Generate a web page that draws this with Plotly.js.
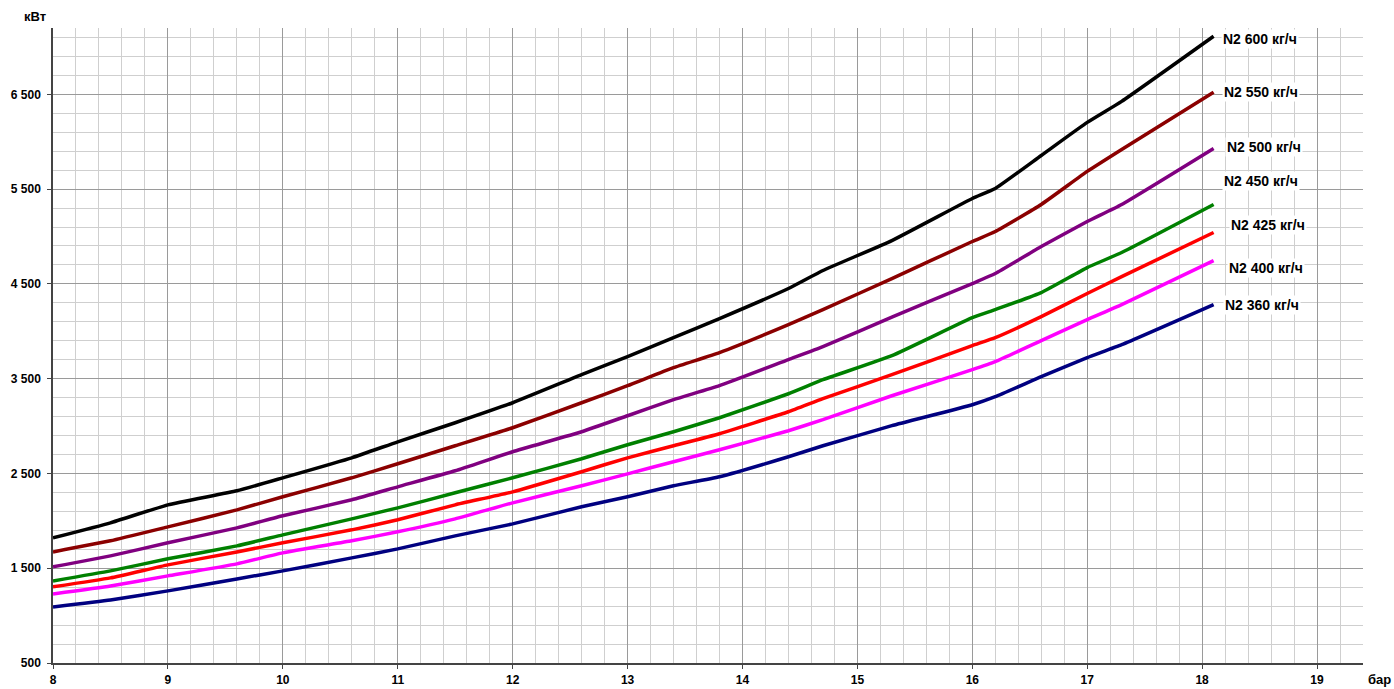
<!DOCTYPE html>
<html>
<head>
<meta charset="utf-8">
<script src="https://cdn.plot.ly/plotly-3.0.1.min.js"></script>
<style>html,body{margin:0;padding:0;background:#fff;}#chart{width:1394px;height:689px;}</style>
</head>
<body>
<div id="chart"></div>
<script>
// pressure, bar
var xs = [8, 8.5, 9, 9.6, 10, 10.6, 11, 11.5, 12, 12.6, 13, 13.4, 13.8, 14.4, 14.7, 15.3, 16, 16.2, 16.6, 17, 17.3, 18.1];
// power, kW
var n600 = [1820, 1979, 2169, 2317, 2454, 2665, 2834, 3035, 3246, 3542, 3732, 3933, 4134, 4451, 4641, 4957, 5401, 5507, 5855, 6204, 6426, 7113];
var n550 = [1672, 1789, 1936, 2116, 2254, 2454, 2602, 2792, 2982, 3246, 3426, 3616, 3775, 4070, 4229, 4556, 4947, 5053, 5338, 5687, 5919, 6521];
var n500 = [1514, 1630, 1768, 1926, 2053, 2222, 2359, 2528, 2729, 2940, 3109, 3278, 3426, 3701, 3838, 4150, 4503, 4609, 4894, 5158, 5338, 5929];
var n450 = [1366, 1472, 1599, 1736, 1852, 2021, 2137, 2296, 2454, 2655, 2803, 2940, 3088, 3341, 3489, 3743, 4144, 4229, 4408, 4672, 4831, 5338];
var n425 = [1303, 1398, 1535, 1672, 1768, 1905, 2011, 2169, 2306, 2518, 2665, 2792, 2919, 3151, 3289, 3542, 3849, 3933, 4155, 4398, 4577, 5042];
var n400 = [1229, 1313, 1419, 1546, 1662, 1789, 1884, 2021, 2190, 2370, 2496, 2623, 2750, 2951, 3067, 3320, 3595, 3680, 3901, 4123, 4281, 4746];
var n360 = [1092, 1165, 1261, 1387, 1472, 1609, 1704, 1841, 1968, 2148, 2254, 2370, 2465, 2676, 2792, 3004, 3225, 3310, 3521, 3722, 3859, 4282];

var seriesNames = ["N2 600 кг/ч", "N2 550 кг/ч", "N2 500 кг/ч", "N2 450 кг/ч", "N2 425 кг/ч", "N2 400 кг/ч", "N2 360 кг/ч"];
var seriesColors = ["#000000", "#8b0000", "#800080", "#008000", "#ff0000", "#ff00ff", "#000080"];
var labelX = [18.16, 18.17, 18.2, 18.17, 18.23, 18.22, 18.18];
var labelY = [7080, 6530, 5940, 5590, 5120, 4670, 4280];

var yTickVals = [500, 1500, 2500, 3500, 4500, 5500, 6500];
var yTickText = ["500", "1 500", "2 500", "3 500", "4 500", "5 500", "6 500"];
var xTickVals = [8, 9, 10, 11, 12, 13, 14, 15, 16, 17, 18, 19];
var xTickText = ["8", "9", "10", "11", "12", "13", "14", "15", "16", "17", "18", "19"];

var FONT = 'Liberation Sans, Arial, sans-serif';
var allY = [n600, n550, n500, n450, n425, n400, n360];
var traces = allY.map(function(ys, i){
  return {x: xs, y: ys, type: 'scatter', mode: 'lines', name: seriesNames[i],
          line: {color: seriesColors[i], width: 3.5, shape: 'spline', smoothing: 0.4}, hoverinfo: 'x+y+name'};
});

var ann = seriesNames.map(function(t, i){
  return {x: labelX[i], y: labelY[i], xref: 'x', yref: 'y', text: '<b>' + t + '</b>', showarrow: false,
          xanchor: 'left', yanchor: 'middle', bgcolor: '#ffffff', borderpad: 1,
          font: {family: FONT, size: 14, color: '#000'}};
});
ann.push({x: 1.0125, y: 0, xref: 'paper', yref: 'paper', text: '<b>бар</b>', showarrow: false,
          xanchor: 'center', yanchor: 'top', yshift: -7, font: {family: FONT, size: 13, color: '#000'}});
ann.push({x: 0, y: 1, xref: 'paper', yref: 'paper', text: '<b>кВт</b>', showarrow: false,
          xanchor: 'right', yanchor: 'bottom', xshift: -5, yshift: 2, font: {family: FONT, size: 13, color: '#000'}});

var layout = {
  width: 1394, height: 689,
  margin: {l: 53, r: 31, t: 28, b: 26, pad: 0},
  paper_bgcolor: '#fff', plot_bgcolor: '#fff',
  showlegend: false,
  font: {family: FONT, size: 12, color: '#000'},
  xaxis: {
    range: [8, 19.4], tickmode: 'array', tickvals: xTickVals, ticktext: xTickText,
    showgrid: true, gridcolor: '#9a9a9a', gridwidth: 1,
    minor: {dtick: 0.2, tick0: 8, showgrid: true, gridcolor: '#cfcfcf', gridwidth: 1, ticks: ''},
    showline: true, linecolor: '#444', linewidth: 1.5, ticks: 'outside', ticklen: 4, tickcolor: '#444',
    tickfont: {family: FONT, size: 12, color: '#000', weight: 'bold'},
    ticklabelstandoff: 1, zeroline: false, fixedrange: true
  },
  yaxis: {
    range: [500, 7200], tickmode: 'array', tickvals: yTickVals, ticktext: yTickText,
    showgrid: true, gridcolor: '#9a9a9a', gridwidth: 1,
    minor: {dtick: 200, tick0: 500, showgrid: true, gridcolor: '#cfcfcf', gridwidth: 1, ticks: ''},
    showline: true, linecolor: '#444', linewidth: 1.5, ticks: 'outside', ticklen: 4, tickcolor: '#444',
    tickfont: {family: FONT, size: 12, color: '#000', weight: 'bold'},
    ticklabelstandoff: 4, zeroline: false, fixedrange: true
  },
  annotations: ann
};

Plotly.newPlot('chart', traces, layout, {displayModeBar: false});
</script>
</body>
</html>
